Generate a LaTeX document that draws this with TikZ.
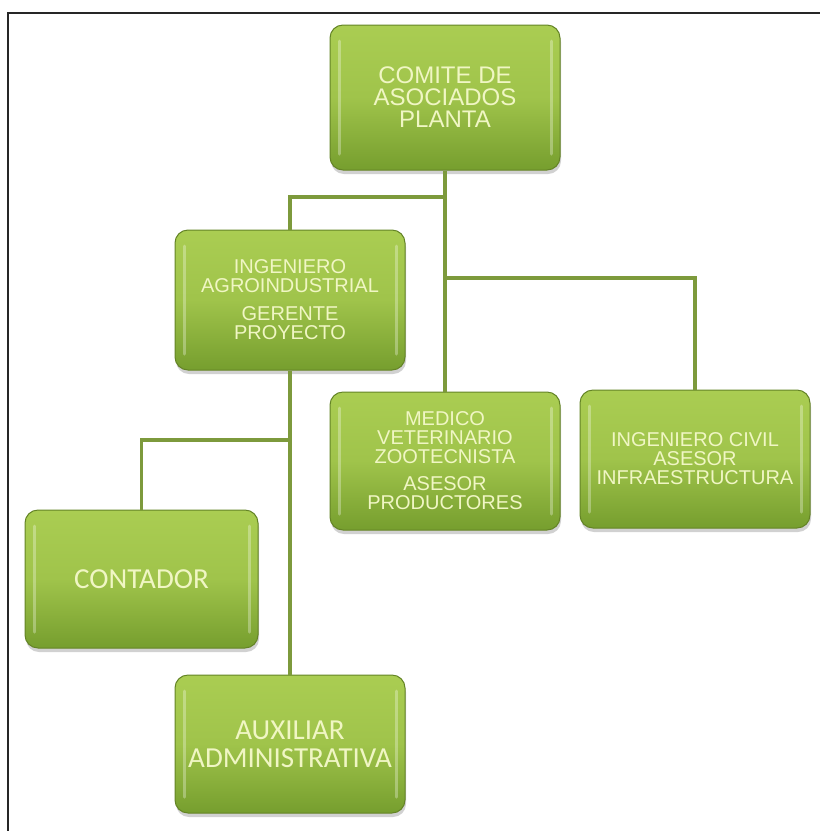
\documentclass[tikz,border=0pt]{standalone}
\usepackage{fontspec}
\setmainfont{Liberation Sans}
\newfontfamily\calfont{Carlito}
\usetikzlibrary{shadows}
\definecolor{linegreen}{RGB}{125,154,60}
\definecolor{boxtop}{RGB}{170,205,82}
\definecolor{boxbot}{RGB}{118,158,46}
\definecolor{boxedge}{RGB}{100,132,38}
\definecolor{txt}{RGB}{240,246,196}
\tikzset{
  orgbox/.style={draw=boxedge, line width=1pt, rounded corners=13pt,
    top color=boxtop, bottom color=boxbot, middle color=boxtop!80!boxbot,
    minimum width=230pt, minimum height=138pt, text=txt, align=center,
    inner sep=2pt,
    drop shadow={shadow xshift=1pt, shadow yshift=-4pt, opacity=0.3, fill=black!60},
    path picture={
      \draw[white, opacity=0.3, line width=3pt, line cap=round]
        ([xshift=9pt,yshift=-16pt]path picture bounding box.north west) --
        ([xshift=9pt,yshift=16pt]path picture bounding box.south west);
      \draw[white, opacity=0.3, line width=3pt, line cap=round]
        ([xshift=-9pt,yshift=-16pt]path picture bounding box.north east) --
        ([xshift=-9pt,yshift=16pt]path picture bounding box.south east);
    }},
  arialtxt/.style={font=\fontsize{20}{19}\selectfont},
  caltxt/.style={font=\calfont\fontsize{29}{28}\selectfont},
  conn/.style={draw=linegreen, line width=3.5pt},
  frameline/.style={draw=black!85, line width=2pt}
}
\begin{document}
\begin{tikzpicture}[x=1pt,y=-1pt]
\useasboundingbox (0,0) rectangle (820,831);
\draw[frameline] (8,831) coordinate (fbl) -- (8,12.5) coordinate (ftl) -- (820,12.5) coordinate (ftr);

\node[orgbox, minimum height=145pt, font=\fontsize{24}{22}\selectfont] (top) at (445,97.5) {COMITE DE\\ASOCIADOS\\PLANTA};
\node[orgbox, minimum height=140pt, arialtxt] (ing) at (290,300) {INGENIERO\\AGROINDUSTRIAL\\[9pt]GERENTE\\PROYECTO};
\node[orgbox, arialtxt] (med) at (445,461) {MEDICO\\VETERINARIO\\ZOOTECNISTA\\[8pt]ASESOR\\PRODUCTORES};
\node[orgbox, arialtxt] (civ) at (695,459) {INGENIERO CIVIL\\ASESOR\\INFRAESTRUCTURA};
\node[orgbox, minimum width=233pt, caltxt] (con) at (141.5,579) {CONTADOR};
\node[orgbox, caltxt] (aux) at (290,744) {AUXILIAR\\ADMINISTRATIVA};

\draw[conn] (top.south) -- (med.north);
\draw[conn] (top.south |- 0,197) -| (ing.north);
\draw[conn] (top.south |- 0,278) -| (civ.north);
\draw[conn] (ing.south) -- (aux.north);
\draw[conn] (ing.south |- 0,440) -| (con.north);
\end{tikzpicture}
\end{document}
